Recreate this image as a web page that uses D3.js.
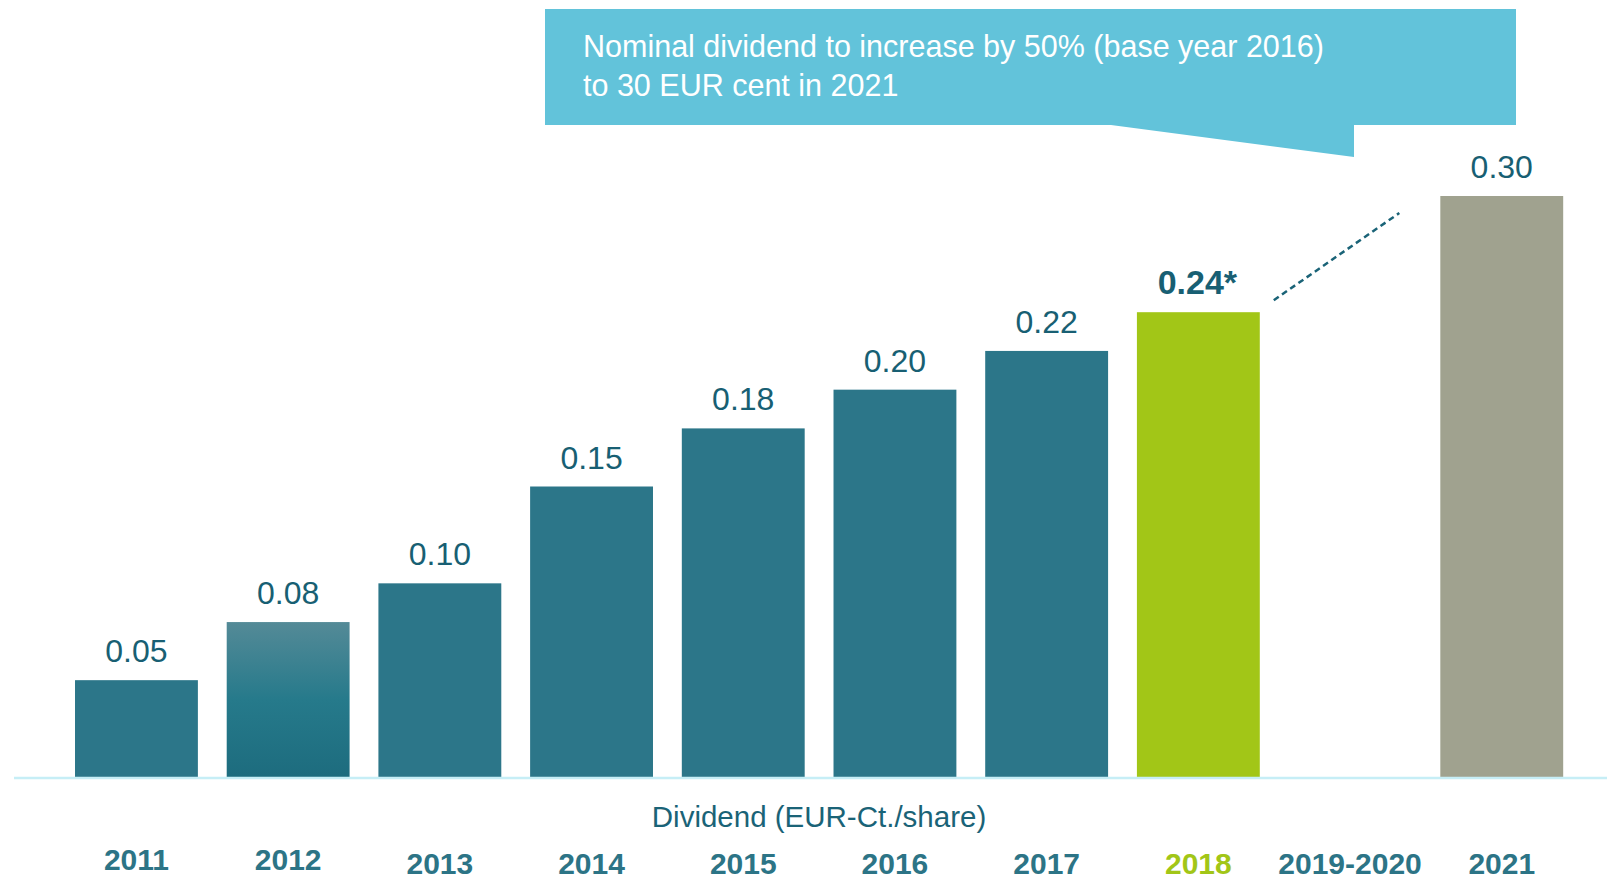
<!DOCTYPE html>
<meta charset="utf-8">
<head>
    <title>Dividend</title>
    <script type="text/javascript" src="https://cdn.jsdelivr.net/npm/d3@7"></script>
    <style>
        body { margin: 0; background: #fff; }
        svg { font-family: "Liberation Sans", Arial, sans-serif; display: block; }
    </style>
</head>
<body>
<div id="chart"></div>
<script>

    // chart data
    var years = ["2011", "2012", "2013", "2014", "2015", "2016", "2017", "2018", "2019-2020", "2021"];
    var dividends = [0.05, 0.08, 0.10, 0.15, 0.18, 0.20, 0.22, 0.24, null, 0.30];
    var valueLabels = ["0.05", "0.08", "0.10", "0.15", "0.18", "0.20", "0.22", "0.24*", "", "0.30"];
    var axisTitle = "Dividend (EUR-Ct./share)";
    var calloutLines = ["Nominal dividend to increase by 50% (base year 2016)", "to 30 EUR cent in 2021"];

    var width = 1607, height = 879;
    var baseY = 777;

    var svg = d3.select("#chart").append("svg")
        .attr("width", width)
        .attr("height", height);

    // gradient for 2012 bar
    var defs = svg.append("defs");
    var grad = defs.append("linearGradient")
        .attr("id", "grad2012")
        .attr("x1", 0).attr("y1", 0).attr("x2", 0).attr("y2", 1);
    grad.append("stop").attr("offset", "0%").attr("stop-color", "#548a97");
    grad.append("stop").attr("offset", "50%").attr("stop-color", "#267a8b");
    grad.append("stop").attr("offset", "100%").attr("stop-color", "#1d6c7e");

    var x = d3.scaleBand()
        .domain(years)
        .range([60.6, 1577.6])
        .paddingInner(0.19)
        .paddingOuter(0.095);

    var y = d3.scaleLinear()
        .domain([0, 0.30])
        .range([baseY, 196]);

    function barColor(d, i) {
        if (d == "2012") return "url(#grad2012)";
        if (d == "2018") return "#a2c617";
        if (d == "2021") return "#a0a28f";
        return "#2c7689";
    }

    var withValue = years.filter((d, i) => dividends[i] != null);

    // bars
    svg.append("g").selectAll("rect")
        .data(withValue)
        .enter()
        .append("rect")
        .attr("x", d => x(d))
        .attr("y", d => y(dividends[years.indexOf(d)]))
        .attr("width", x.bandwidth())
        .attr("height", d => baseY - y(dividends[years.indexOf(d)]))
        .attr("fill", barColor);

    // baseline
    svg.append("line")
        .attr("x1", 14).attr("x2", width)
        .attr("y1", baseY + 1).attr("y2", baseY + 1)
        .attr("stroke", "#c6eef6")
        .attr("stroke-width", 2.5);

    // value labels
    svg.append("g").selectAll("text")
        .data(withValue)
        .enter()
        .append("text")
        .attr("x", d => x(d) + x.bandwidth() / 2 + (d == "2018" ? -1 : 0))
        .attr("y", d => y(dividends[years.indexOf(d)]) - 18)
        .attr("text-anchor", "middle")
        .attr("font-size", d => d == "2018" ? "34px" : "32px")
        .attr("font-weight", d => d == "2018" ? "bold" : "normal")
        .attr("fill", "#185f73")
        .text(d => valueLabels[years.indexOf(d)]);

    // category labels
    svg.append("g").selectAll("text")
        .data(years)
        .enter()
        .append("text")
        .attr("x", d => x(d) + x.bandwidth() / 2)
        .attr("y", (d, i) => i < 2 ? 870 : 874)
        .attr("text-anchor", "middle")
        .attr("font-size", "30px")
        .attr("font-weight", "bold")
        .attr("fill", d => d == "2018" ? "#a2c617" : "#2c7486")
        .text(d => d);

    // axis title
    svg.append("text")
        .attr("x", 819)
        .attr("y", 827)
        .attr("text-anchor", "middle")
        .attr("font-size", "29.5px")
        .attr("fill", "#1a6377")
        .text(axisTitle);

    // dashed trend line from 2018 towards 2021
    svg.append("line")
        .attr("x1", x("2018") + x.bandwidth() + 14)
        .attr("y1", y(0.24) - 12)
        .attr("x2", x("2021") - 41)
        .attr("y2", y(0.30) + 17)
        .attr("stroke", "#1a6377")
        .attr("stroke-width", 2.5)
        .attr("stroke-dasharray", "6,4");

    // callout box
    var bx0 = 545, bx1 = 1516, by0 = 9, by1 = 125;
    svg.append("path")
        .attr("d", "M" + bx0 + "," + by0 + "H" + bx1 + "V" + by1 + "H1354V157L1111," + by1 + "H" + bx0 + "Z")
        .attr("fill", "#62c3da");

    svg.append("g").selectAll("text")
        .data(calloutLines)
        .enter()
        .append("text")
        .attr("x", 583)
        .attr("y", (d, i) => 57 + i * 39)
        .attr("font-size", "30.5px")
        .attr("fill", "#fff")
        .text(d => d);

</script>
</body>
